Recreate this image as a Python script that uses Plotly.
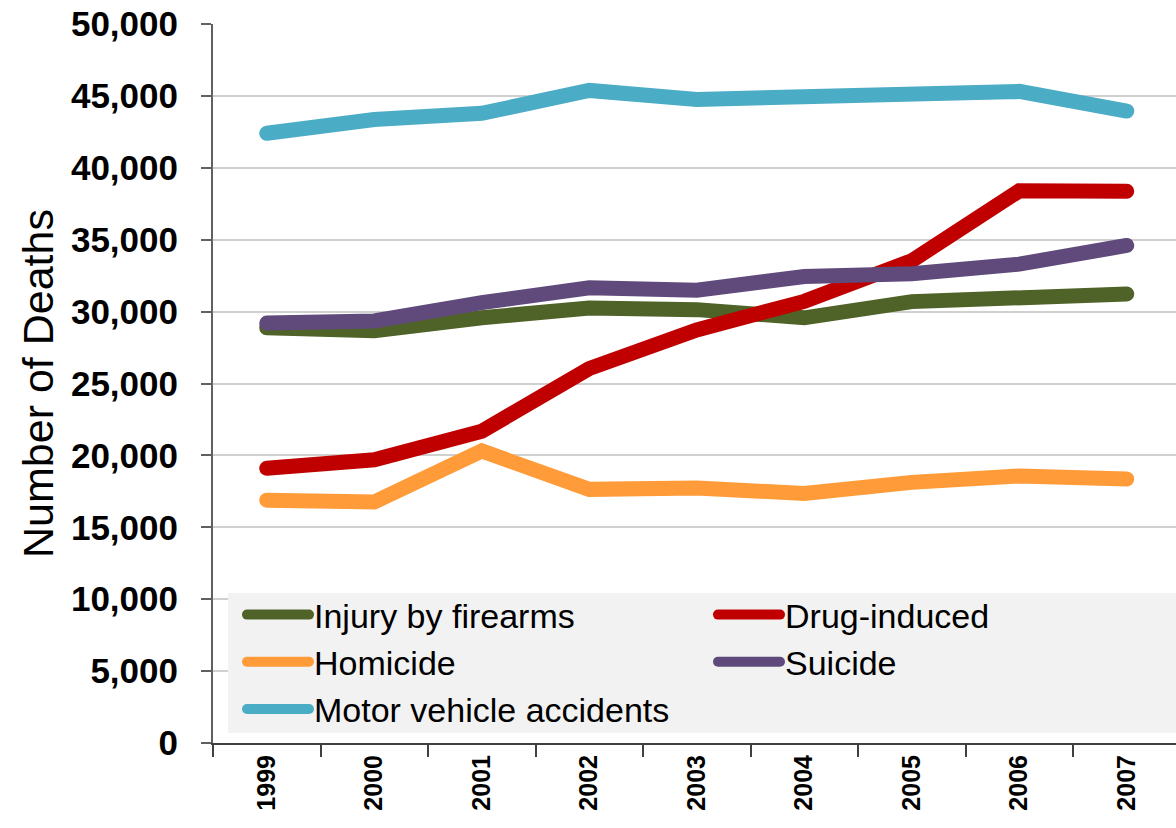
import plotly.graph_objects as go

years = ["1999", "2000", "2001", "2002", "2003", "2004", "2005", "2006", "2007"]
firearms = [28874, 28663, 29573, 30242, 30136, 29569, 30694, 30896, 31224]
drug = [19102, 19698, 21683, 26040, 28723, 30711, 33541, 38396, 38371]
homicide = [16889, 16765, 20308, 17638, 17732, 17357, 18124, 18573, 18361]
suicide = [29199, 29350, 30622, 31655, 31484, 32439, 32637, 33300, 34598]
motor = [42401, 43354, 43788, 45380, 44757, 44933, 45343, 45316, 43945]

series = [
    ("Injury by firearms", firearms, "#4F6228"),
    ("Drug-induced", drug, "#C00000"),
    ("Homicide", homicide, "#FF9B38"),
    ("Suicide", suicide, "#604A7B"),
    ("Motor vehicle accidents", motor, "#4BACC6"),
]

fig = go.Figure()
for name, vals, color in series:
    fig.add_trace(go.Scatter(x=years, y=vals, name=name, mode="lines",
                             line=dict(color=color, width=15)))

# body margin is removed by the post script, so layout px = screen px
W, H = 1176, 828
L, T, B, R = 213, 24, 85, 0
plot_w = W - L - R
plot_h = H - T - B
cat_w = 107.5


def px_x(sx):
    return (sx - L) / plot_w


def px_y(sy):
    return (H - B - sy) / plot_h


# legend background panel
fig.add_shape(type="rect", xref="paper", yref="paper",
              x0=px_x(228), x1=1.02, y0=px_y(733), y1=px_y(593),
              fillcolor="#F2F2F2", line=dict(width=0), layer="above")

fig.update_layout(
    width=W, height=H,
    margin=dict(l=L, r=R, t=T, b=B, autoexpand=False),
    plot_bgcolor="white", paper_bgcolor="white",
    showlegend=True,
    legend=dict(
        orientation="h",
        x=px_x(242), xanchor="left",
        y=px_y(586), yanchor="top",
        bgcolor="rgba(0,0,0,0)",
        entrywidth=394, entrywidthmode="pixels",
        font=dict(family="Liberation Sans, Arial", size=34, color="black"),
        itemwidth=62,
    ),
    xaxis=dict(
        type="category",
        automargin=False,
        range=[-0.5, -0.5 + plot_w / cat_w],
        showgrid=False,
        showline=True, linecolor="#404040", linewidth=2,
        ticks="outside", tickson="boundaries", ticklen=12, tickwidth=1.5, tickcolor="#404040",
        tickangle=-90,
        tickfont=dict(family="Liberation Sans, Arial", size=25, color="black", weight="bold"),
    ),
    yaxis=dict(
        automargin=False,
        range=[0, 50000],
        tickvals=list(range(0, 50001, 5000)),
        tickformat=",d",
        ticklabeloverflow="allow",
        showgrid=True, gridcolor="#D0D0D0", gridwidth=2,
        showline=True, linecolor="#606060", linewidth=2,
        ticks="outside", ticklen=10, tickwidth=1.5, tickcolor="#606060",
        ticklabelstandoff=16,
        zeroline=False,
        tickfont=dict(family="Liberation Sans, Arial", size=35, color="black", weight="bold"),
        title=dict(text="Number of Deaths", standoff=4,
                   font=dict(family="Liberation Sans, Arial", size=43, color="black")),
    ),
)

post = """
document.body.style.margin='0';
document.body.style.overflow='hidden';
var gd = document.getElementsByClassName('plotly-graph-div')[0];
function fixCaps(){
  document.querySelectorAll('.scatterlayer path.js-line, .legendlines path').forEach(function(p){
    p.style.strokeLinecap='round';
  });
}
fixCaps();
gd.on('plotly_afterplot', fixCaps);
"""
fig.write_html("out.html", post_script=post, config={"displayModeBar": False})
